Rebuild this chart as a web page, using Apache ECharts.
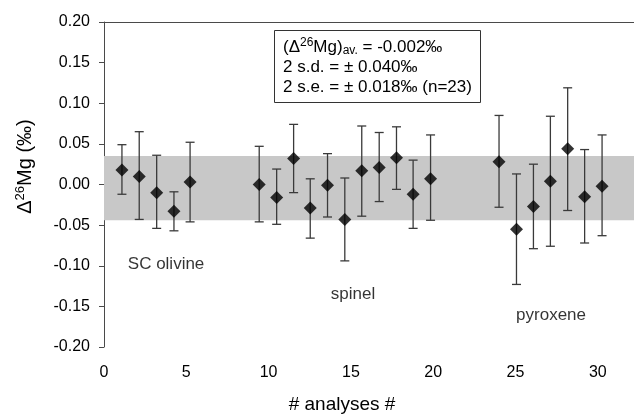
<!DOCTYPE html>
<html>
<head>
<meta charset="utf-8">
<script src="https://cdn.jsdelivr.net/npm/echarts@6/dist/echarts.min.js"></script>
<style>
html,body{margin:0;padding:0;background:#fff;}
#chart{width:634px;height:414px;}
</style>
</head>
<body>
<div id="chart"></div>
<script>
// ---- data ----
const olivineX  = [1.09, 2.14, 3.20, 4.25, 5.23];
const olivineY  = [0.018, 0.010, -0.010, -0.033, 0.003];
const olivineHi = [0.049, 0.065, 0.036, -0.009, 0.052];
const olivineLo = [-0.012, -0.043, -0.054, -0.057, -0.046];

const spinelX  = [9.43, 10.49, 11.52, 12.53, 13.58, 14.63, 15.66, 16.72, 17.77, 18.78, 19.84];
const spinelY  = [0.000, -0.016, 0.032, -0.029, -0.001, -0.043, 0.017, 0.021, 0.033, -0.012, 0.007];
const spinelHi = [0.047, 0.019, 0.074, 0.007, 0.038, 0.008, 0.072, 0.064, 0.071, 0.030, 0.061];
const spinelLo = [-0.046, -0.049, -0.010, -0.066, -0.040, -0.094, -0.039, -0.021, -0.006, -0.054, -0.044];

const pyroxeneX  = [24.00, 25.06, 26.09, 27.12, 28.17, 29.20, 30.26];
const pyroxeneY  = [0.028, -0.055, -0.027, 0.004, 0.044, -0.015, -0.002];
const pyroxeneHi = [0.085, 0.013, 0.025, 0.084, 0.119, 0.043, 0.061];
const pyroxeneLo = [-0.028, -0.123, -0.079, -0.076, -0.032, -0.072, -0.063];

const bandHigh = 0.035;
const bandLow = -0.044;

const groupNames  = ['SC olivine', 'spinel', 'pyroxene'];
const groupLabelX = [3.77, 15.13, 27.16];
const groupLabelY = [-0.098, -0.135, -0.161];

const annotationLines = [
  '{t|(Δ}{sup|26}{t|Mg)}{sub|av.}{t| = -0.002‰}',
  '{t|2 s.d. = ± 0.040‰}',
  '{t|2 s.e. = ± 0.018‰ (n=23)}'
];

// ---- build ----
const FONT = '"Liberation Sans", Arial, Helvetica, sans-serif';
const LINE = '#4a4a4a';

const allX  = olivineX.concat(spinelX, pyroxeneX);
const allY  = olivineY.concat(spinelY, pyroxeneY);
const allHi = olivineHi.concat(spinelHi, pyroxeneHi);
const allLo = olivineLo.concat(spinelLo, pyroxeneLo);

const pointData = allX.map((x, i) => [x, allY[i]]);
const errData = allX.map((x, i) => [x, allLo[i], allHi[i]]);
const labelData = groupNames.map((n, i) => ({ name: n, value: [groupLabelX[i], groupLabelY[i]] }));

const chart = echarts.init(document.getElementById('chart'), null, { renderer: 'canvas' });

const option = {
  backgroundColor: '#fff',
  animation: false,
  grid: { left: 104, right: 0, top: 22, bottom: 67, containLabel: false, outerBoundsMode: 'none' },
  xAxis: [{
    type: 'value', min: 0, max: 32.2, interval: 5,
    axisLine: { show: true, lineStyle: { color: LINE, width: 1 } },
    axisTick: { show: true, inside: false, length: 5, lineStyle: { color: LINE } },
    axisLabel: {
      color: '#000', fontSize: 16, fontFamily: FONT, margin: 18,
      formatter: v => (Math.abs(v % 5) < 1e-9 ? String(v) : ''),
      showMaxLabel: false
    },
    splitLine: { show: false },
    name: '# analyses #', nameLocation: 'middle', nameGap: 48,
    nameTextStyle: { color: '#000', fontSize: 19, fontFamily: FONT, padding: [0, 54, 0, 0] }
  }, {
    type: 'value', position: 'top', min: 0, max: 32.2,
    axisLine: { show: true, lineStyle: { color: LINE, width: 1 } },
    axisTick: { show: false }, axisLabel: { show: false }, splitLine: { show: false }
  }],
  yAxis: {
    type: 'value', min: -0.2, max: 0.2, interval: 0.05,
    axisLine: { show: true, lineStyle: { color: LINE, width: 1 } },
    axisTick: { show: true, inside: false, length: 5, lineStyle: { color: LINE } },
    axisLabel: { color: '#000', fontSize: 16, fontFamily: FONT, margin: 14,
      formatter: v => v.toFixed(2) },
    splitLine: { show: false },
    name: '{m|Δ}{s|26}{m|Mg (‰)}', nameLocation: 'middle', nameGap: 67,
    nameTextStyle: {
      color: '#000', fontSize: 20, fontFamily: FONT, padding: [0, 0, 0, 36],
      rich: {
        m: { fontSize: 20, fontFamily: FONT, color: '#000', lineHeight: 23 },
        s: { fontSize: 13, fontFamily: FONT, color: '#000', lineHeight: 13, verticalAlign: 'top' }
      }
    }
  },
  series: [
    {
      type: 'scatter', data: [], z: 1, silent: true,
      markArea: {
        silent: true,
        itemStyle: { color: '#c8c8c8' },
        data: [[{ yAxis: bandHigh }, { yAxis: bandLow }]]
      }
    },
    {
      type: 'custom', z: 3, silent: true,
      data: errData,
      encode: { x: 0, y: [1, 2] },
      renderItem: function (params, api) {
        const x = api.value(0), lo = api.value(1), hi = api.value(2);
        const pHi = api.coord([x, hi]);
        const pLo = api.coord([x, lo]);
        const w = 4.5;
        const st = { stroke: '#3a3a3a', lineWidth: 1.3 };
        return {
          type: 'group',
          children: [
            { type: 'line', shape: { x1: pHi[0], y1: pHi[1], x2: pLo[0], y2: pLo[1] }, style: st },
            { type: 'line', shape: { x1: pHi[0] - w, y1: pHi[1], x2: pHi[0] + w, y2: pHi[1] }, style: st },
            { type: 'line', shape: { x1: pLo[0] - w, y1: pLo[1], x2: pLo[0] + w, y2: pLo[1] }, style: st }
          ]
        };
      }
    },
    {
      type: 'scatter', z: 5, silent: true,
      data: pointData,
      symbol: 'diamond', symbolSize: 13,
      itemStyle: { color: '#000' }
    },
    {
      type: 'scatter', z: 6, silent: true,
      data: labelData,
      symbolSize: 0,
      label: {
        show: true, position: 'inside', color: '#000',
        textBorderWidth: 0, textBorderColor: 'transparent',
        fontSize: 17, fontFamily: FONT,
        formatter: p => p.name
      }
    }
  ],
  graphic: [
    {
      type: 'rect', z: 10,
      shape: { x: 274.5, y: 30.5, width: 206, height: 72 },
      style: { fill: '#fff', stroke: '#333', lineWidth: 1 }
    },
    {
      type: 'text', z: 11, x: 283, y: 37,
      style: {
        text: annotationLines.join('\n'),
        fill: '#000', font: '17px ' + FONT,
        verticalAlign: 'top', align: 'left',
        rich: {
          t: { fontSize: 17, fontFamily: FONT, lineHeight: 20, fill: '#000' },
          sup: { fontSize: 12, fontFamily: FONT, lineHeight: 12, verticalAlign: 'top', fill: '#000' },
          sub: { fontSize: 12, fontFamily: FONT, lineHeight: 12, verticalAlign: 'bottom', fill: '#000' }
        }
      }
    }
  ]
};

chart.setOption(option);
</script>
</body>
</html>
